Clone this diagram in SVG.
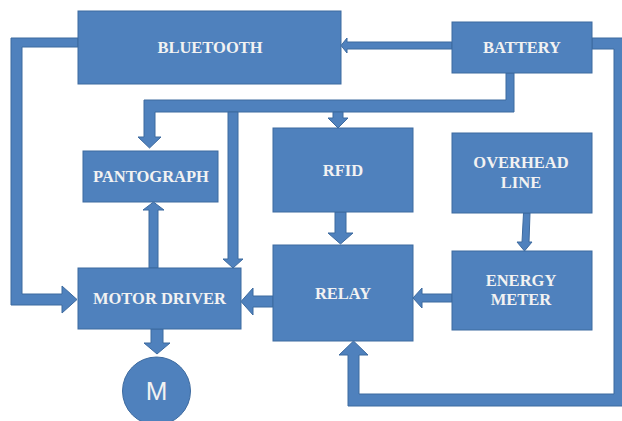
<svg xmlns="http://www.w3.org/2000/svg" width="622" height="421" viewBox="0 0 622 421">
<style>
.box{fill:#4f81bd;stroke:#3d6a9f;stroke-width:1}
.arr{fill:#4f81bd;stroke:#3d6a9f;stroke-width:1;stroke-linejoin:miter}
.lbl{font-family:"Liberation Serif","Times New Roman",serif;font-weight:bold;font-size:16.5px;fill:#f2f2f2;text-anchor:middle}
.m{font-family:"Liberation Sans",Arial,sans-serif;font-size:26px;fill:#f2f2f2;text-anchor:middle}
</style>
<rect width="622" height="421" fill="#ffffff"/>
<g id="connectors">
<path class="arr" d="M452,42 L347,42 L347,38 L341,45.5 L347,53 L347,49 L452,49 Z"/>
<path class="arr" d="M78,38 L11,38 L11,305 L62,305 L62,313 L77,299.5 L62,286 L62,294 L22,294 L22,47 L78,47 Z"/>
<path class="arr" d="M506,73 L514,73 L514,112 L155,112 L155,137 L161,137 L149.5,148 L138,137 L144,137 L144,100 L506,100 Z"/>
<path class="arr" d="M228,112 L238,112 L238,259 L243,259 L233,268 L223,259 L228,259 Z"/>
<path class="arr" d="M333,112 L343,112 L343,118 L348,118 L338,128 L328,118 L333,118 Z"/>
<path class="arr" d="M335,212 L346,212 L346,233 L353,233 L340.5,244 L328,233 L335,233 Z"/>
<path class="arr" d="M523.5,213 L530,213 L529,242 L532,242 L524.5,251 L517,242 L522,242 Z"/>
<path class="arr" d="M452,294 L422,294 L422,288 L413,298 L422,308 L422,302 L452,302 Z"/>
<path class="arr" d="M273,296 L253,296 L253,288 L241,301.5 L253,315 L253,307 L273,307 Z"/>
<path class="arr" d="M149,268 L158,268 L158,210 L164,210 L153.5,202 L143,210 L149,210 Z"/>
<path class="arr" d="M151,329 L163,329 L163,343 L170,343 L157,354 L144,343 L151,343 Z"/>
<path class="arr" d="M592,38 L626,38 L626,406 L348,406 L348,355 L339,355 L353.5,341 L368,355 L359,355 L359,394 L614,394 L614,49 L592,49 Z"/>
</g>
<g id="bluetooth"><rect class="box" x="78" y="11" width="263" height="73"/><text class="lbl" x="210" y="53">BLUETOOTH</text></g>
<g id="battery"><rect class="box" x="452" y="22" width="140" height="51"/><text class="lbl" x="522" y="53">BATTERY</text></g>
<g id="pantograph"><rect class="box" x="83" y="151" width="135" height="51"/><text class="lbl" x="151" y="181.5">PANTOGRAPH</text></g>
<g id="rfid"><rect class="box" x="273" y="128" width="140" height="84"/><text class="lbl" x="343" y="176">RFID</text></g>
<g id="overhead-line"><rect class="box" x="452" y="133" width="140" height="80"/><text class="lbl" x="521" y="168">OVERHEAD</text><text class="lbl" x="521" y="187.5">LINE</text></g>
<g id="energy-meter"><rect class="box" x="452" y="251" width="140" height="79"/><text class="lbl" x="521" y="286">ENERGY</text><text class="lbl" x="521" y="305">METER</text></g>
<g id="relay"><rect class="box" x="273" y="245" width="140" height="96"/><text class="lbl" x="343" y="298.5">RELAY</text></g>
<g id="motor-driver"><rect class="box" x="78" y="268" width="163" height="61"/><text class="lbl" x="159.5" y="304">MOTOR DRIVER</text></g>
<g id="motor"><circle class="box" cx="156.5" cy="391" r="34"/><text class="m" x="156.5" y="400">M</text></g>
</svg>
